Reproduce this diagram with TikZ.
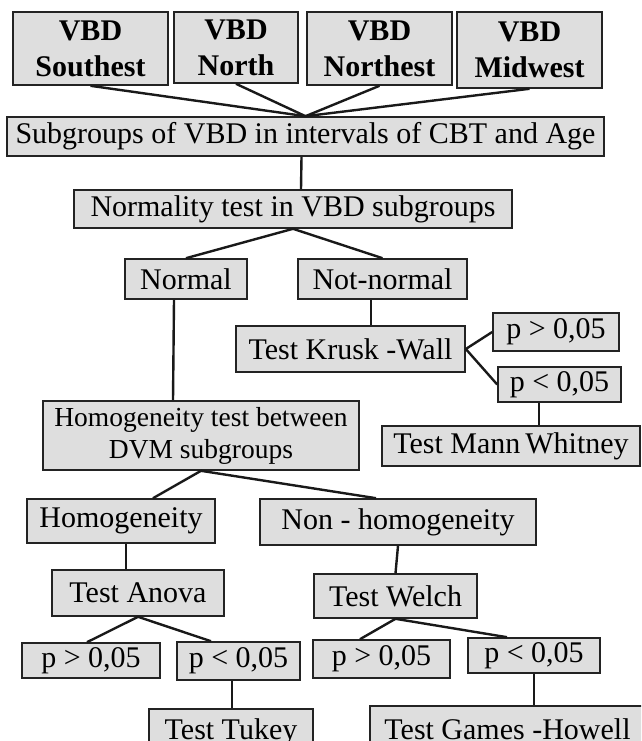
\documentclass[tikz,border=0pt]{standalone}
\usepackage{fontspec}
\setmainfont{Liberation Serif}
\usetikzlibrary{calc}
\definecolor{boxgray}{RGB}{222,222,222}
\definecolor{boxline}{RGB}{35,35,35}
\tikzset{
         bx/.style=
          {
           draw=boxline,
           fill=boxgray,
           line width=1.6pt,
           inner sep=0pt,
           align=center,
           font=\fontsize{30}{35}\selectfont
          },
         bxb/.style={bx,font=\fontsize{30}{36}\selectfont\bfseries},
         ln/.style={line width=2.4pt,black!90}
        }

\begin{document}
\begin{tikzpicture}[x=1pt,y=-1pt]
\useasboundingbox(0,0)rectangle(641,741);
\clip(0,0)rectangle(641,741);
% regions
\node[bxb,minimum width=155,minimum height=73](s1)at(90.5,48.5){VBD\\Southest};
\node[bxb,minimum width=124,minimum height=71](s2)at(236,47.5){VBD\\North};
\node[bxb,minimum width=145,minimum height=73](s3)at(379.5,48.5){VBD\\Northest};
\node[bxb,minimum width=145,minimum height=76](s4)at(529.5,50){VBD\\Midwest};
\node[bx,minimum width=597,minimum height=39](sub)at(305.5,136.5){Subgroups of VBD in intervals of CBT and Age};
\node[bx,minimum width=438,minimum height=38](norm)at(293,209){Normality test in VBD subgroups};
% not normal branch
\node[bx,minimum width=122,minimum height=40](nor)at(186,279){Normal};
\node[bx,minimum width=169,minimum height=40](nnor)at(382.5,279){Not-normal};
\node[bx,minimum width=229,minimum height=46](kw)at(350.5,349){Test Krusk -Wall};
\node[bx,minimum width=126,minimum height=38](kwa)at(556,332){p > 0,05};
\node[bx,minimum width=123,minimum height=35](kwb)at(559.5,384.5){p < 0,05};
\node[bx,minimum width=258,minimum height=40](mw)at(511,446){Test Mann\,Whitney};
% normal branch
\node[bx,minimum width=316,minimum height=69,font=\fontsize{27.5}{32}\selectfont](hom)at(201,435.5){Homogeneity test between\\DVM subgroups};
\node[bx,minimum width=188,minimum height=44](h1)at(121,521){Homogeneity};
\node[bx,minimum width=276,minimum height=46](h2)at(398,522){Non - homogeneity};
\node[bx,minimum width=172,minimum height=46](an)at(138,593){Test Anova};
\node[bx,minimum width=163,minimum height=44](we)at(395.5,596){Test Welch};
\node[bx,minimum width=138,minimum height=35](a1)at(91,660.5){p > 0,05};
\node[bx,minimum width=123,minimum height=38](a2)at(238.5,661){p < 0,05};
\node[bx,minimum width=137,minimum height=38](w1)at(381.5,659){p > 0,05};
\node[bx,minimum width=132,minimum height=35](w2)at(534,655.5){p < 0,05};
\node[bx,minimum width=164,minimum height=46](tk)at(231,732){Test Tukey};
\node[bx,minimum width=275,minimum height=46](gh)at(507.5,729){Test Games -Howell};
% connectors
\draw[ln](s1.south)--(sub.north);
\draw[ln](s2.south)--(sub.north);
\draw[ln](s3.south)--(sub.north);
\draw[ln](s4.south)--(sub.north);
\draw[ln]($(sub.south)+(-4,0)$)--($(norm.north)+(8,0)$);
\draw[ln](norm.south)--(nor.north);
\draw[ln](norm.south)--(nnor.north);
\draw[ln]($(nor.south)+(-12,0)$)--($(hom.north)+(-28,0)$);
\draw[ln]($(nnor.south)+(-11.5,0)$)--($(kw.north)+(20.5,0)$);
\draw[ln](kw.east)--(kwa.west);
\draw[ln](kw.east)--(kwb.west);
\draw[ln]($(kwb.south)+(-20.5,0)$)--($(mw.north)+(28,0)$);
\draw[ln](hom.south)--($(h1.north)+(32,0)$);
\draw[ln](hom.south)--($(h2.north)+(-22,0)$);
\draw[ln]($(h1.south)+(5,0)$)--($(an.north)+(-12,0)$);
\draw[ln](h2.south)--(we.north);
\draw[ln](an.south)--($(a1.north)+(-4,0)$);
\draw[ln](an.south)--($(a2.north)+(-27.5,0)$);
\draw[ln](we.south)--($(w1.north)+(-21.5,0)$);
\draw[ln](we.south)--($(w2.north)+(-27,0)$);
\draw[ln]($(a2.south)+(-6.5,0)$)--($(tk.north)+(1,0)$);
\draw[ln](w2.south)--($(gh.north)+(26.5,0)$);
\end{tikzpicture}
\end{document}
